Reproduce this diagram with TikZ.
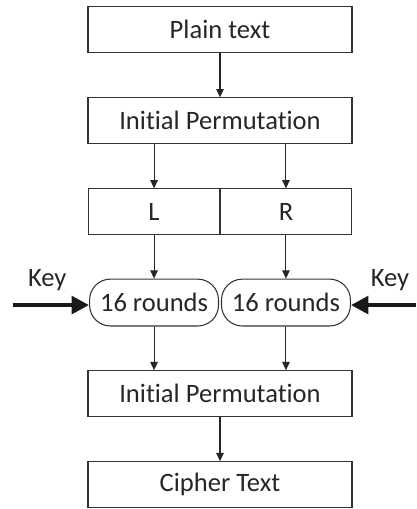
\documentclass[tikz,border=0pt]{standalone}
\usepackage{fontspec}
\setmainfont{Carlito}[Ligatures=NoCommon]
\usetikzlibrary{arrows.meta}

\tikzstyle{box} = [draw=black!80,line width=0.8pt,rectangle,minimum width=6.985cm,minimum height=1.2cm,inner sep=0pt,text=black!85,font=\fontsize{20}{24}\selectfont]
\tikzstyle{half} = [box,minimum width=3.49cm]
\tikzstyle{rounds} = [box,minimum width=3.41cm,minimum height=1.24cm,rounded corners=0.55cm]
\tikzstyle{flow} = [draw=black!85,line width=0.8pt,-{Triangle[length=2.2mm,width=2mm]}]
\tikzstyle{keyarrow} = [draw=black!90,line width=3.2pt,-{Triangle[length=4.6mm,width=4.6mm]}]

\begin{document}
\begin{tikzpicture}[node distance=2.408cm]
	\useasboundingbox (-5.821,0.781) rectangle (5.186,-12.686);
	\node (plain) [box] {Plain text};
	\node (ip) [box,below of=plain] {Initial Permutation};
	\node (l) [half,below of=ip,xshift=-1.745cm] {L};
	\node (r) [half,right of=l,node distance=3.49cm] {R};
	\node (rl) [rounds,below of=l] {16 rounds};
	\node (rr) [rounds,below of=r] {16 rounds};
	\node (fp) [box,below of=ip,node distance=7.22cm] {Initial Permutation};
	\node (cipher) [box,below of=fp] {Cipher Text};
	\coordinate (kl) at (-5.477,-7.29);
	\coordinate (kr) at (5.186,-7.29);
	\draw [flow] (plain) -- (ip);
	\draw [flow] (ip.south -| l) -- (l);
	\draw [flow] (ip.south -| r) -- (r);
	\draw [flow] (l) -- (rl);
	\draw [flow] (r) -- (rr);
	\draw [flow] (rl) -- (fp.north -| rl);
	\draw [flow] (rr) -- (fp.north -| rr);
	\draw [flow] (fp) -- (cipher);
	% key inputs
	\draw [keyarrow] (kl) -- (kl -| rl.west) node (keyl) [pos=0.45,above=0.2cm,font=\fontsize{20}{24}\selectfont,text=black!85] {Key};
	\draw [keyarrow] (kr) -- (kr -| rr.east) node (keyr) [pos=0.4,above=0.2cm,font=\fontsize{20}{24}\selectfont,text=black!85] {Key};
\end{tikzpicture}
\end{document}
